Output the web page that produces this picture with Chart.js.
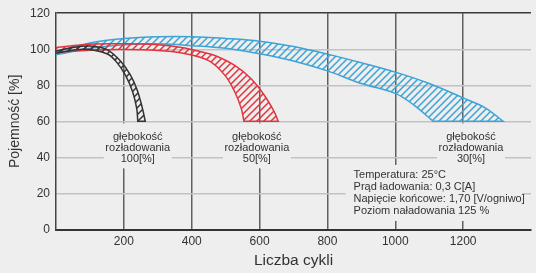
<!DOCTYPE html>
<html>
<head>
<meta charset="utf-8">
<script src="https://cdn.jsdelivr.net/npm/chart.js@4.4.1/dist/chart.umd.min.js"></script>
<style>
  html, body { margin: 0; padding: 0; background: #edeeed; }
  canvas { display: block; }
</style>
</head>
<body>
<canvas id="cycleChart" width="536" height="273"></canvas>
<script>
// Capacity vs. number of cycles, three depths of discharge
const BG = '#edeeed';

// 100% depth of discharge (black band)
const blackOuterX = [0, 50, 100, 150, 190, 220, 240, 255, 263];
const blackOuterY = [99, 101, 101.8, 99.8, 93.5, 85.5, 77, 67, 60];
const blackInnerX = [0, 80, 150, 178, 205, 226, 238, 241];
const blackInnerY = [97.8, 100, 97.5, 93, 85.5, 76.3, 67, 60];

// 50% depth of discharge (red band)
const redOuterX = [0, 100, 200, 300, 370, 430, 470, 527, 575, 614, 643, 655];
const redOuterY = [101, 102.8, 103, 102.5, 101, 98.5, 96.4, 91, 83.6, 74.5, 65.4, 60];
const redInnerX = [0, 100, 200, 300, 370, 450, 498, 527, 546, 554];
const redInnerY = [98.3, 99.5, 99.8, 99.3, 97.9, 93.7, 85.5, 76.3, 67.2, 60];

// 30% depth of discharge (blue band)
const blueOuterX = [0, 100, 200, 300, 400, 500, 600, 700, 800, 900, 1000, 1100, 1200, 1265, 1318];
const blueOuterY = [98.5, 103.5, 106, 107, 107, 106, 104.5, 101.5, 97.3, 92.5, 87.3, 81, 73, 67.5, 60];
const blueInnerX = [0, 100, 200, 300, 400, 500, 600, 700, 800, 900, 1000, 1055, 1112];
const blueInnerY = [97, 100.5, 102.5, 103, 102, 100.5, 97.5, 93.5, 88, 81, 75.5, 69, 60];

// axis ticks
const yTicks = [0, 20, 40, 60, 80, 100, 120];
const xTicks = [0, 200, 400, 600, 800, 1000, 1200, 1400];
const xTickLabels = ['200', '400', '600', '800', '1000', '1200'];

// annotations
const depthLabelX = [241, 592, 1223];
const depthLabelY = 45;
const depthLabelText = ['100[%]', '50[%]', '30[%]'];
const infoX = 877;
const infoY = 30;
const infoLines = [
    'Temperatura: 25°C',
    'Prąd ładowania: 0,3 C[A]',
    'Napięcie końcowe: 1,70 [V/ogniwo]',
    'Poziom naładowania 125 %'
];

const FONT = '"Liberation Sans", Arial, sans-serif';
Chart.defaults.font.family = FONT;
Chart.defaults.color = '#333';

const canvas = document.getElementById('cycleChart');
const ctx = canvas.getContext('2d');

// diagonal hatch pattern
const hatch = (color) => {
    const size = 7;
    const c = document.createElement('canvas');
    c.width = size;
    c.height = size;
    const g = c.getContext('2d');
    g.strokeStyle = color;
    g.lineWidth = 1.5;
    g.beginPath();
    g.moveTo(-1, size + 1); g.lineTo(size + 1, -1);
    g.moveTo(-1, 1); g.lineTo(1, -1);
    g.moveTo(size - 1, size + 1); g.lineTo(size + 1, size - 1);
    g.stroke();
    return ctx.createPattern(c, 'repeat');
};

// closed outline: outer curve, then inner curve backwards
const bandPoints = (outX, outY, inX, inY) => {
    const pts = outX.map((c, i) => ({ x: c, y: outY[i] }));
    const last = pts[pts.length - 1];
    pts.push({ x: last.x, y: last.y });
    const inner = inX.map((c, i) => ({ x: c, y: inY[i] })).reverse();
    pts.push({ x: inner[0].x, y: inner[0].y });
    return pts.concat(inner);
};

const band = (label, pts, color) => ({
    label,
    data: pts,
    borderColor: color,
    borderWidth: 1.5,
    backgroundColor: hatch(color),
    fill: 'shape',
    pointRadius: 0,
    tension: 0.35
});

// background + label boxes that break the grid
const bgPlugin = {
    id: 'bg',
    beforeDraw(chart) {
        const c = chart.ctx;
        c.save();
        c.fillStyle = BG;
        c.fillRect(0, 0, chart.width, chart.height);
        c.restore();
    }
};

const labelPlugin = {
    id: 'labelBoxes',
    beforeDatasetsDraw(chart) {
        const { ctx: c, scales: { x, y } } = chart;
        c.save();
        c.font = '11px ' + FONT;
        c.textBaseline = 'middle';
        depthLabelX.forEach((v, i) => {
            const cx = x.getPixelForValue(v);
            const cy = y.getPixelForValue(depthLabelY);
            c.fillStyle = BG;
            c.fillRect(cx - 34, cy - 25, 68, 45);
            c.fillStyle = '#333';
            c.textAlign = 'center';
            ['głębokość', 'rozładowania', depthLabelText[i]].forEach((t, j) => {
                c.fillText(t, cx, cy + (j - 1) * 11);
            });
        });
        const tx = x.getPixelForValue(infoX);
        const ty = y.getPixelForValue(infoY);
        c.fillStyle = BG;
        c.fillRect(tx - 8, ty - 10.5, 177, 56);
        c.fillStyle = '#333';
        c.textAlign = 'left';
        infoLines.forEach((t, j) => c.fillText(t, tx, ty + j * 12));
        c.restore();
    }
};

new Chart(ctx, {
    type: 'line',
    data: {
        datasets: [
            band('100%', bandPoints(blackOuterX, blackOuterY, blackInnerX, blackInnerY), '#333333'),
            band('50%', bandPoints(redOuterX, redOuterY, redInnerX, redInnerY), '#e2343f'),
            band('30%', bandPoints(blueOuterX, blueOuterY, blueInnerX, blueInnerY), '#3ea3d6')
        ]
    },
    options: {
        responsive: false,
        animation: false,
        layout: { padding: { top: 10, left: 0, right: 0, bottom: 0 } },
        plugins: {
            legend: { display: false },
            tooltip: { enabled: false }
        },
        scales: {
            x: {
                type: 'linear',
                min: 0,
                max: 1400,
                afterFit: (s) => { s.height = 43.5; },
                afterBuildTicks: (s) => { s.ticks = xTicks.map(v => ({ value: v })); },
                ticks: {
                    padding: 5,
                    font: { size: 12 },
                    callback: (v) => xTickLabels.includes(String(v)) ? String(v) : ''
                },
                grid: {
                    drawTicks: false,
                    lineWidth: 1.5,
                    color: (c) => (c.tick && (c.tick.value === 0 || c.tick.value === 1400)) ? 'rgba(0,0,0,0)' : '#606060'
                },
                border: { color: '#333', width: 2 },
                title: {
                    display: true,
                    text: 'Liczba cykli',
                    font: { size: 15.5 },
                    padding: { top: 0, bottom: 3 }
                }
            },
            y: {
                min: 0,
                max: 120,
                afterFit: (s) => { s.width = 56; },
                afterBuildTicks: (s) => { s.ticks = yTicks.map(v => ({ value: v })); },
                ticks: { padding: 6, font: { size: 12 } },
                grid: {
                    drawTicks: false,
                    lineWidth: 1.5,
                    color: (c) => (c.tick && c.tick.value === 120) ? '#3a3a3a' : '#c2c2c2'
                },
                border: { color: '#444', width: 1.5 },
                title: {
                    display: true,
                    text: 'Pojemność [%]',
                    font: { size: 14 },
                    padding: { top: 6.6, bottom: 0 }
                }
            }
        }
    },
    plugins: [bgPlugin, labelPlugin]
});
</script>
</body>
</html>
